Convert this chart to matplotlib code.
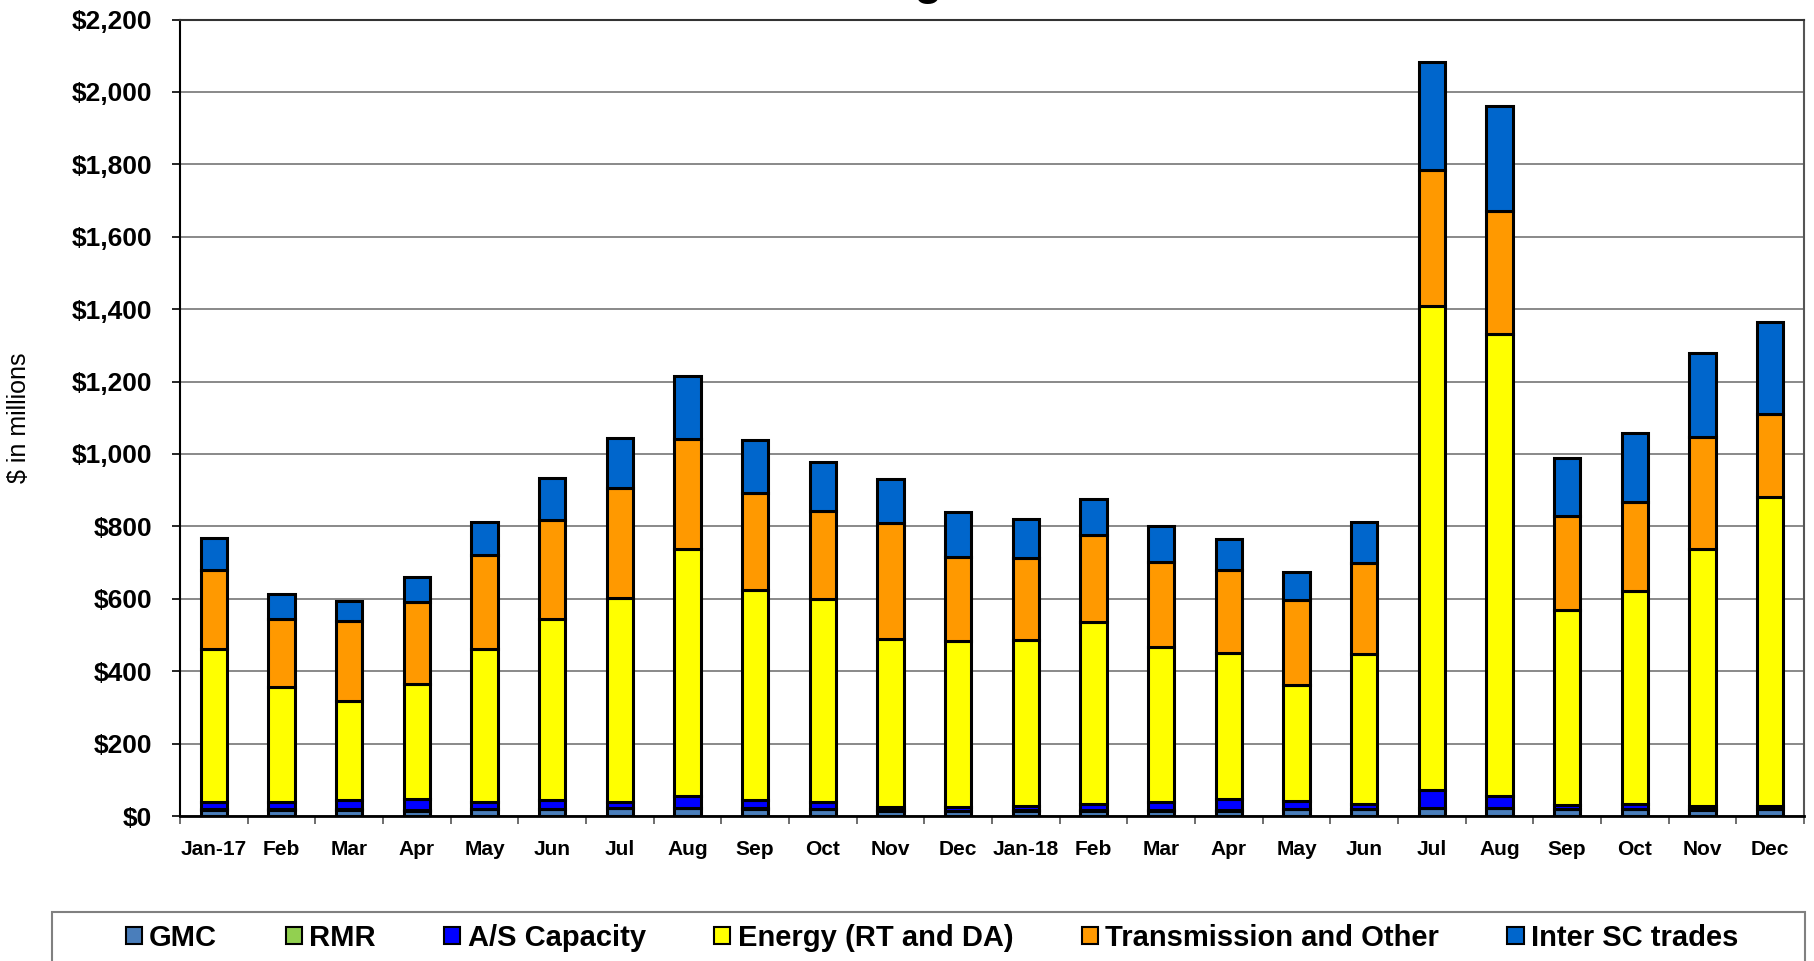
import matplotlib
matplotlib.use("Agg")
import matplotlib.pyplot as plt
import numpy as np
from matplotlib.patches import Patch, Rectangle
from matplotlib.ticker import FuncFormatter, FixedLocator

plt.rcParams["font.family"] = ["Liberation Sans", "DejaVu Sans"]

months = ["Jan-17", "Feb", "Mar", "Apr", "May", "Jun", "Jul", "Aug", "Sep", "Oct",
          "Nov", "Dec", "Jan-18", "Feb", "Mar", "Apr", "May", "Jun", "Jul", "Aug",
          "Sep", "Oct", "Nov", "Dec"]

# Monthly charges by component, $ millions
gmc = [17, 17, 17, 15, 18, 18, 21, 21, 20, 18, 15, 14,
       15, 15, 15, 15, 18, 18, 21, 21, 18, 18, 17, 18]
rmr = [1, 1, 1, 1, 1, 1, 1, 1, 1, 1, 1, 1,
       1, 1, 1, 1, 1, 1, 1, 1, 1, 1, 1, 1]
as_capacity = [21, 22, 25, 30, 21, 25, 18, 33, 23, 21, 10, 9,
               12, 17, 23, 30, 23, 15, 50, 32, 11, 14, 11, 10]
energy = [423, 315, 275, 319, 422, 501, 563, 683, 581, 560, 464, 459,
          457, 502, 429, 404, 320, 413, 1336, 1278, 540, 589, 709, 851]
transmission = [218, 190, 220, 225, 258, 273, 302, 302, 268, 242, 318, 232,
                227, 242, 234, 230, 235, 253, 375, 340, 258, 246, 309, 230]
inter_sc = [88, 67, 56, 70, 92, 115, 139, 175, 145, 136, 122, 125,
            108, 99, 100, 86, 76, 112, 299, 288, 162, 190, 231, 255]

series = [
    ("GMC", gmc, "#4a7ebb"),
    ("RMR", rmr, "#92d050"),
    ("A/S Capacity", as_capacity, "#0000ff"),
    ("Energy (RT and DA)", energy, "#ffff00"),
    ("Transmission and Other", transmission, "#ff9900"),
    ("Inter SC trades", inter_sc, "#0066cc"),
]

W, H = 1814, 961
fig = plt.figure(figsize=(W / 100, H / 100), dpi=100)
ax = fig.add_axes([180 / W, 1 - 816 / H, (1804 - 180) / W, (816 - 19.5) / H])

x = np.arange(len(months))
bottom = np.zeros(len(months))
for name, vals, color in series:
    v = np.array(vals, dtype=float)
    ax.bar(x, v, width=0.39, bottom=bottom, color=color, edgecolor="black",
           linewidth=2.2, zorder=3)
    bottom += v

ax.set_xlim(-0.5, len(months) - 0.5)
ax.set_ylim(0, 2200)
ax.set_yticks(np.arange(0, 2201, 200))
ax.yaxis.set_major_formatter(FuncFormatter(lambda v, p: f"${v:,.0f}"))
ax.grid(axis="y", color="#808080", linewidth=1.3, zorder=0)

ax.set_xticks(x)
ax.set_xticklabels(months)
ax.xaxis.set_minor_locator(FixedLocator(np.arange(-0.5, len(months), 1.0)))
ax.tick_params(axis="x", which="major", length=0, pad=17, labelsize=15)
ax.tick_params(axis="x", which="minor", length=6, width=1.2, direction="out", color="#555555")
ax.tick_params(axis="y", length=6, width=1.2, direction="out", pad=14, labelsize=19)
for lab in ax.get_xticklabels() + ax.get_yticklabels():
    lab.set_fontweight("bold")

ax.set_ylabel("$ in millions", fontsize=18)
ax.yaxis.set_label_coords(-0.092, 0.5)

ax.spines["left"].set_color("black")
ax.spines["left"].set_linewidth(1.5)
ax.spines["bottom"].set_color("black")
ax.spines["bottom"].set_linewidth(2)
ax.spines["top"].set_color("#333333")
ax.spines["top"].set_linewidth(1.5)
ax.spines["right"].set_color("#555555")
ax.spines["right"].set_linewidth(1.5)

# Legend box across the bottom of the figure
fig.patches.append(Rectangle((52 / W, 1 - 968 / H), (1805 - 52) / W, (968 - 912) / H,
                             transform=fig.transFigure, facecolor="white",
                             edgecolor="#808080", linewidth=1.5))
handles = [Patch(facecolor=c, edgecolor="black", linewidth=1.5, label=n)
           for n, _, c in series]
leg = fig.legend(handles=handles, loc="center", bbox_to_anchor=(0.5 + 25 / W, 1 - 938 / H),
                 ncol=6, frameon=False, prop={"weight": "bold", "size": 21},
                 handlelength=0.55, handleheight=0.55, handletextpad=0.25,
                 columnspacing=2.35)

# Title sits above the top edge of the figure
title = "Total Charges"
size = 33
renderer = fig.canvas.get_renderer()
probe = fig.text(0, 0, "Total Char", fontsize=size, fontweight="bold")
prefix_w = probe.get_window_extent(renderer).width
probe.remove()
fig.text((914 - prefix_w) / W, (H + 6) / H, title, fontsize=size,
         fontweight="bold", va="baseline", ha="left")

fig.savefig("out.png", dpi=100)
